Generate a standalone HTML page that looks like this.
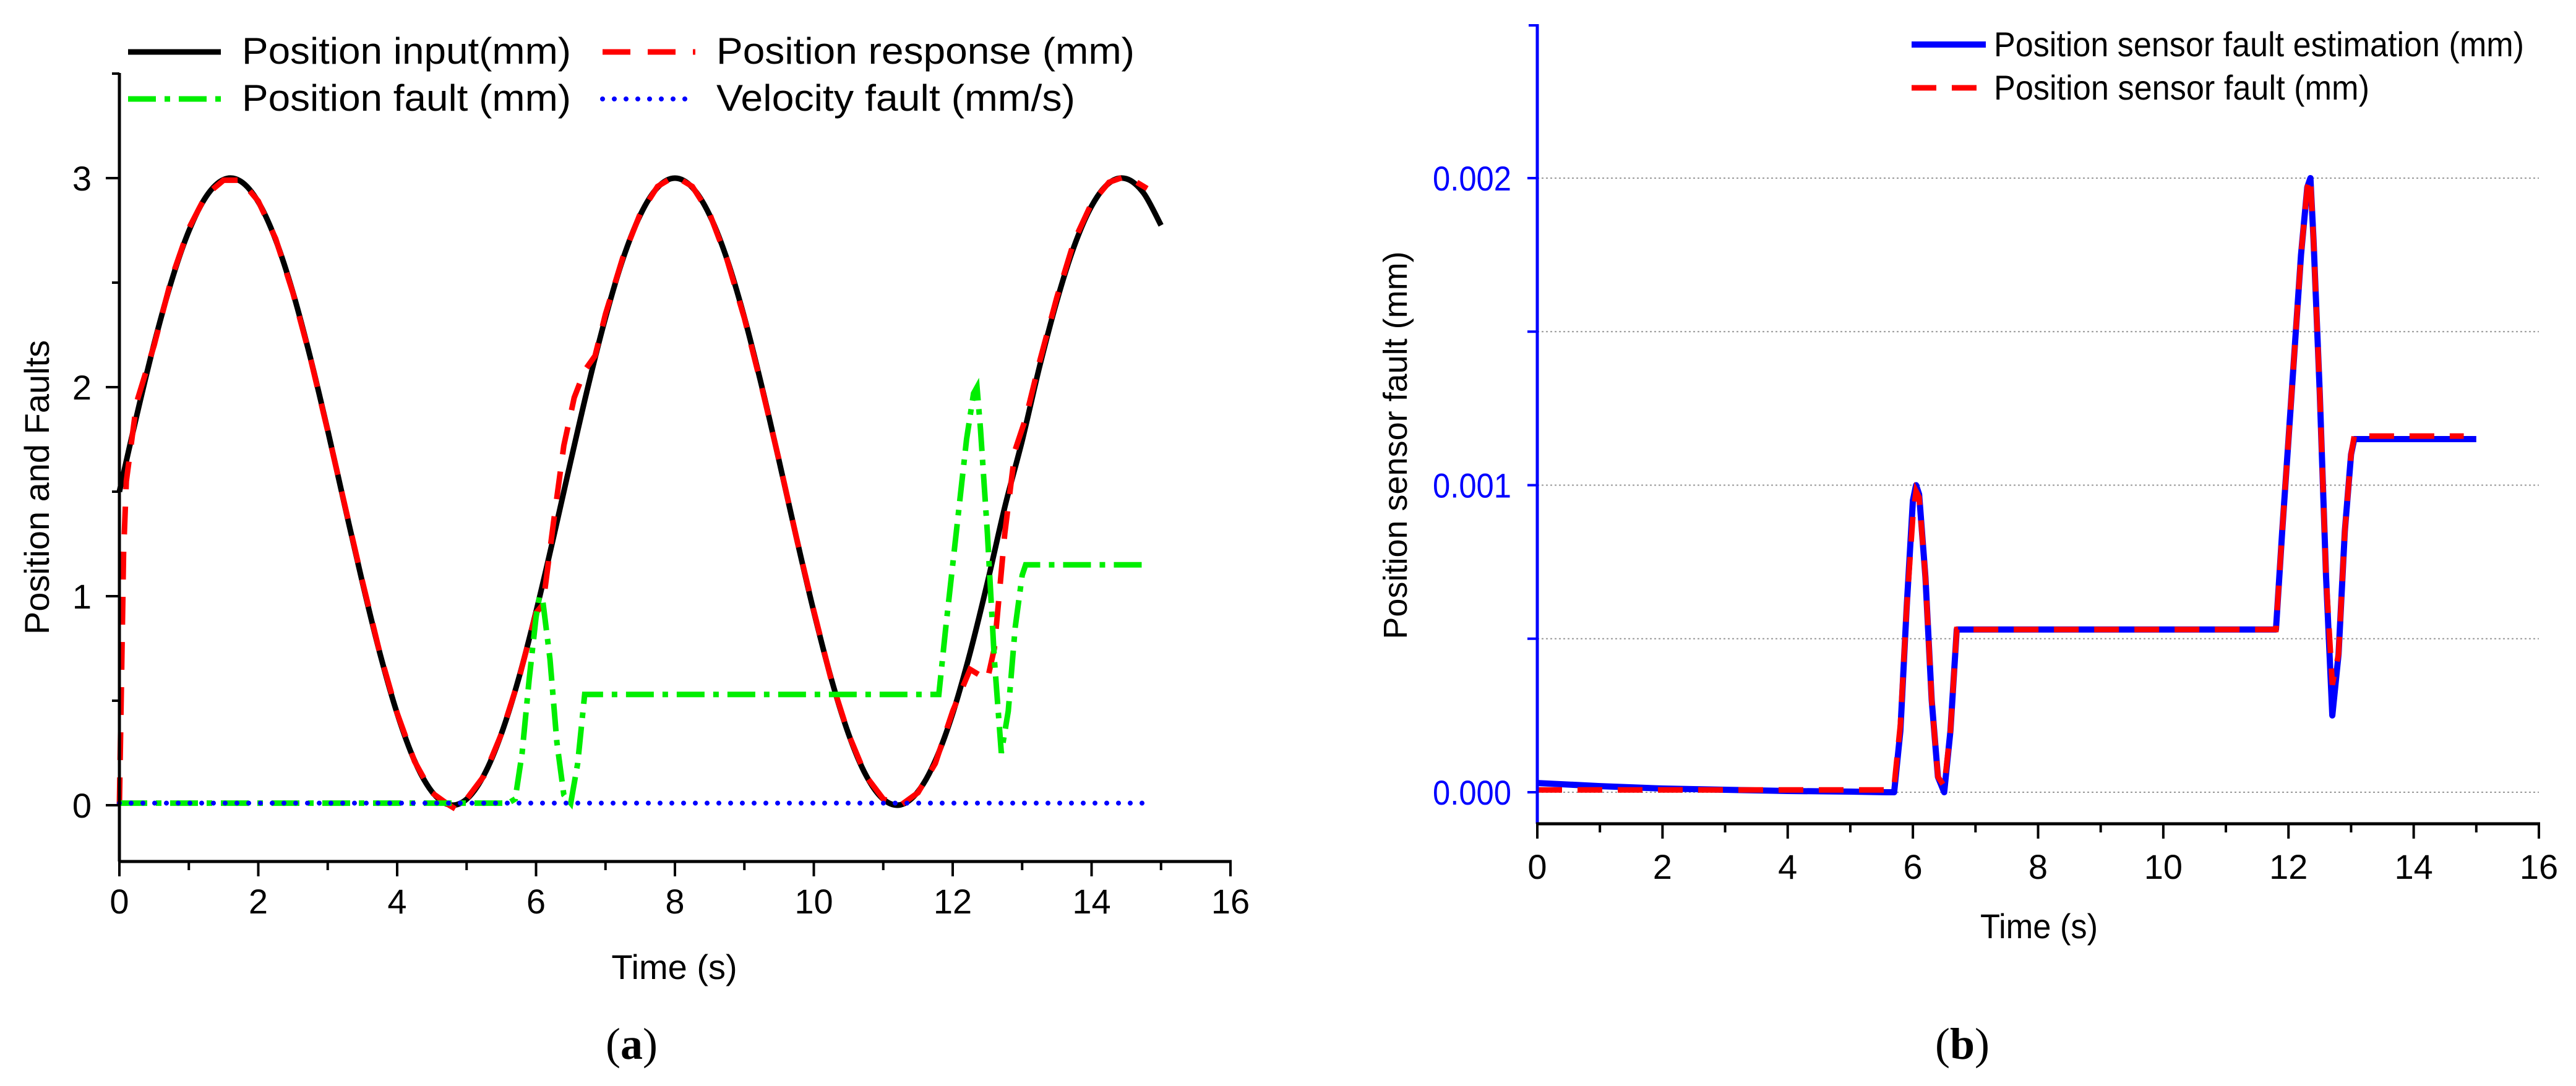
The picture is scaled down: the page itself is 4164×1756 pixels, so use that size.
<!DOCTYPE html>
<html><head><meta charset="utf-8"><style>
html,body{margin:0;padding:0;background:#fff}
svg{display:block}
text{font-family:"Liberation Sans",Arial,sans-serif}
text.serif{font-family:"Liberation Serif",serif}
</style></head><body>
<svg id="fig" width="4164" height="1756" viewBox="0 0 4164 1756" xmlns="http://www.w3.org/2000/svg">
<g id="chartA"></g>
<g id="chartB"></g>
</svg>
<script>
// ---------- Chart A data ----------
const timeGridA = [0,0.25,0.5,0.75,1,1.25,1.5,1.75,2,2.25,2.5,2.75,3,3.25,3.5,3.75,4,4.25,4.5,4.75,5,5.25,5.5,5.75,6,6.25,6.5,6.75,7,7.25,7.5,7.75,8,8.25,8.5,8.75,9,9.25,9.5,9.75,10,10.25,10.5,10.75,11,11.25,11.5,11.75,12,12.25,12.5,12.75,13,13.25,13.5,13.75,14,14.25,14.5,14.75,15];
const positionInput = [1.5,1.865,2.207,2.507,2.747,2.912,2.993,2.984,2.886,2.705,2.452,2.141,1.793,1.426,1.065,0.729,0.439,0.213,0.065,0.002,0.029,0.144,0.341,0.606,0.926,1.28,1.647,2.005,2.333,2.612,2.823,2.955,3.0,2.955,2.823,2.612,2.333,2.005,1.647,1.28,0.926,0.606,0.341,0.144,0.029,0.002,0.065,0.213,0.439,0.729,1.065,1.426,1.744,2.097,2.413,2.675,2.866,2.976,2.997,2.928,2.774];
const responseTimes = [0,0.03,0.06,0.1,0.25,0.5,0.75,1,1.25,1.5,1.75,2,2.25,2.5,2.75,3,3.25,3.5,3.75,4,4.25,4.5,4.75,4.85,5,5.25,5.5,5.75,6,6.1,6.25,6.4,6.55,6.7,6.85,7,7.25,7.5,7.75,8,8.25,8.5,8.75,9,9.25,9.5,9.75,10,10.25,10.5,10.75,11,11.25,11.5,11.75,12,12.25,12.4,12.5,12.6,12.75,12.9,13.05,13.25,13.5,13.75,14,14.25,14.5,14.8];
const positionResponse = [0,0.6,1.2,1.55,1.93,2.2,2.52,2.76,2.92,2.99,2.99,2.89,2.71,2.45,2.14,1.79,1.43,1.07,0.73,0.44,0.21,0.06,0.0,-0.02,0.03,0.14,0.34,0.6,0.92,0.96,1.35,1.72,1.95,2.08,2.15,2.35,2.62,2.83,2.96,3.01,2.96,2.83,2.61,2.33,2.0,1.65,1.28,0.93,0.6,0.34,0.14,0.03,0.0,0.06,0.2,0.45,0.65,0.62,0.6,0.75,1.3,1.7,1.85,2.12,2.43,2.7,2.88,2.98,3.01,2.95];
const faultTimes = [0,5.6,5.7,5.8,5.9,6.0,6.05,6.1,6.2,6.3,6.4,6.5,6.6,6.7,11.8,11.9,12.0,12.1,12.2,12.3,12.35,12.4,12.5,12.6,12.7,12.8,12.9,13.0,13.05,14.8];
const positionFault = [0.01,0.01,0.03,0.25,0.6,0.9,1.0,0.97,0.7,0.3,0.05,0.01,0.2,0.53,0.53,0.85,1.15,1.45,1.75,1.97,2.0,1.8,1.3,0.7,0.25,0.45,0.85,1.1,1.15,1.15];
const velocityTimes = [0,14.8];
const velocityFault = [0.01,0.01];
const xTicksA = [0,2,4,6,8,10,12,14,16];
const yTicksA = [0,1,2,3];

// ---------- Chart B data ----------
const estTimes = [0,1,2,3,4,5,5.6,5.7,5.8,5.9,6.0,6.05,6.1,6.2,6.3,6.4,6.5,6.6,6.7,11.8,11.9,12.0,12.1,12.2,12.3,12.35,12.4,12.5,12.6,12.7,12.8,12.9,13.0,13.05,15];
const faultEstimation = [0.00003,0.00002,0.000012,0.000008,0.000004,0.000002,0.0,0.0,0.0002,0.0006,0.00095,0.001,0.00097,0.0007,0.0003,0.00005,0.0,0.0002,0.00053,0.00053,0.00085,0.00115,0.00145,0.00175,0.00197,0.002,0.0018,0.0013,0.0007,0.00025,0.00045,0.00085,0.0011,0.00115,0.00115];
const sensorFaultTimes = [0,5.6,5.7,5.8,5.9,6.0,6.05,6.1,6.2,6.3,6.4,6.5,6.6,6.7,11.8,11.9,12.0,12.1,12.2,12.3,12.35,12.4,12.5,12.6,12.7,12.8,12.9,13.0,13.05,14.8];
const sensorFault = [0.0000075,0.0000075,0.00002,0.00022,0.0006,0.0009,0.00098,0.00096,0.0007,0.0003,0.00005,0.00002,0.0002,0.00053,0.00053,0.00085,0.00115,0.00145,0.00175,0.00197,0.002,0.0018,0.0013,0.0007,0.00035,0.00045,0.00085,0.0011,0.00116,0.00116];
const xTicksB = [0,2,4,6,8,10,12,14,16];
const yTicksB = [0,0.001,0.002];
const yTickLabelsB = ["0.000","0.001","0.002"];
const gridB = [0,0.0005,0.001,0.0015,0.002];

const NS = "http://www.w3.org/2000/svg";
function mk(parent, tag, attrs){ const e=document.createElementNS(NS,tag); for(const k in attrs) e.setAttribute(k,attrs[k]); parent.appendChild(e); return e; }
function pathFrom(xs, ys, sx, sy){ return xs.map((t,i)=>(i?'L':'M')+sx(t).toFixed(1)+','+sy(ys[i]).toFixed(1)).join(''); }
function smoothFrom(xs, ys, sx, sy){
  const P=xs.map((t,i)=>[sx(t),sy(ys[i])]);
  let d='M'+P[0][0].toFixed(1)+','+P[0][1].toFixed(1);
  for(let i=0;i<P.length-1;i++){
    const p0=P[Math.max(0,i-1)],p1=P[i],p2=P[i+1],p3=P[Math.min(P.length-1,i+2)];
    const c1=[p1[0]+(p2[0]-p0[0])/6,p1[1]+(p2[1]-p0[1])/6];
    const c2=[p2[0]-(p3[0]-p1[0])/6,p2[1]-(p3[1]-p1[1])/6];
    d+='C'+c1[0].toFixed(1)+','+c1[1].toFixed(1)+' '+c2[0].toFixed(1)+','+c2[1].toFixed(1)+' '+p2[0].toFixed(1)+','+p2[1].toFixed(1);
  }
  return d;
}

// ===== Chart A =====
(function(){
  const g=document.getElementById('chartA');
  const X0=193,X1=1989,YA=1302,perU=338;
  const sx=t=>X0+(t-0)/16*(X1-X0);
  const sy=v=>YA-v*perU;
  const axisY=1393, topY=118;
  let e;
  e=mk(g,'path',{d:smoothFrom(timeGridA,positionInput,sx,sy),fill:'none',stroke:'#000','stroke-width':9});
   
  e=mk(g,'path',{d:pathFrom(responseTimes,positionResponse,sx,sy),fill:'none',stroke:'#ff0000','stroke-width':9,'stroke-dasharray':'45 28'});
   
  e=mk(g,'path',{d:pathFrom(faultTimes,positionFault,sx,sy),fill:'none',stroke:'#00ee00','stroke-width':9,'stroke-dasharray':'45 14 9 14'});
   
  e=mk(g,'path',{d:pathFrom(velocityTimes,velocityFault,sx,sy),fill:'none',stroke:'#0000ff','stroke-width':8,'stroke-dasharray':'0 19','stroke-linecap':'round'});
   
  e=mk(g,'line',{x1:X0,y1:topY,x2:X0,y2:axisY,stroke:'#000','stroke-width':5});
   
  e=mk(g,'line',{x1:X0-2,y1:axisY,x2:X1+2,y2:axisY,stroke:'#000','stroke-width':5});
   
  for(let t=0;t<=16;t++){
    const major=t%2===0;
    e=mk(g,'line',{x1:sx(t),y1:axisY,x2:sx(t),y2:axisY+(major?24:14),stroke:'#000','stroke-width':4});
     
  }
  xTicksA.forEach(t=>{
    e=mk(g,'text',{x:sx(t),y:1477,'font-size':56,'text-anchor':'middle'}); e.textContent=t;
     
  });
  for(let v=0;v<=3.5;v+=0.5){
    const major=v%1===0;
    e=mk(g,'line',{x1:X0,y1:sy(v),x2:X0-(major?22:12),y2:sy(v),stroke:'#000','stroke-width':4});
     
  }
  yTicksA.forEach(v=>{
    e=mk(g,'text',{x:148,y:sy(v)+20,'font-size':56,'text-anchor':'end'}); e.textContent=v;
     
  });
  e=mk(g,'text',{x:1090,y:1583,'font-size':56,'text-anchor':'middle'}); e.textContent='Time (s)';
   
  e=mk(g,'text',{x:0,y:0,'font-size':56,'text-anchor':'middle',transform:'translate(79,788) rotate(-90)'}); e.textContent='Position and Faults';
   
  e=mk(g,'text',{x:1021,y:1712,'font-size':72,'text-anchor':'middle','class':'serif'}); e.innerHTML='(<tspan font-weight="bold">a</tspan>)';
   
  const leg=[
    {x:207,y:70,label:'Position input(mm)',st:{stroke:'#000','stroke-width':9},tx:391,w:532,n:'legend-position-input'},
    {x:974,y:70,label:'Position response (mm)',st:{stroke:'#ff0000','stroke-width':9,'stroke-dasharray':'45 28'},tx:1158,w:676,n:'legend-position-response'},
    {x:207,y:146,label:'Position fault (mm)',st:{stroke:'#00ee00','stroke-width':9,'stroke-dasharray':'45 14 9 14'},tx:391,w:532,n:'legend-position-fault'},
    {x:974,y:146,label:'Velocity fault (mm/s)',st:{stroke:'#0000ff','stroke-width':8,'stroke-dasharray':'0 19','stroke-linecap':'round'},tx:1158,w:580,n:'legend-velocity-fault'}
  ];
  leg.forEach(L=>{
    const lg=mk(g,'g',{});
     
    mk(lg,'line',Object.assign({x1:L.x,y1:L.y+14,x2:L.x+150,y2:L.y+14},L.st));
    const t=mk(lg,'text',{x:L.tx,y:L.y+33,'font-size':60,textLength:L.w,lengthAdjust:'spacingAndGlyphs'}); t.textContent=L.label;
  });
})();

// ===== Chart B =====
(function(){
  const g=document.getElementById('chartB');
  const X0=2485,X1=4104,Y0=1281,per=496500;
  const sx=t=>X0+t/16*(X1-X0);
  const sy=v=>Y0-v*per;
  const axisY=1332, topY=39;
  let e;
  gridB.forEach(v=>{
    e=mk(g,'line',{x1:X0,y1:sy(v),x2:X1,y2:sy(v),stroke:'#999','stroke-width':2,'stroke-dasharray':'3 4'});
     
  });
  e=mk(g,'path',{d:pathFrom(estTimes,faultEstimation,sx,sy),fill:'none',stroke:'#0000ff','stroke-width':10,'stroke-linejoin':'round'});
   
  e=mk(g,'path',{d:pathFrom(sensorFaultTimes,sensorFault,sx,sy),fill:'none',stroke:'#ff0000','stroke-width':9,'stroke-dasharray':'40 25'});
   
  e=mk(g,'line',{x1:X0,y1:topY,x2:X0,y2:axisY,stroke:'#0000ff','stroke-width':5});
   
  e=mk(g,'line',{x1:X0,y1:topY+2,x2:X0-14,y2:topY+2,stroke:'#0000ff','stroke-width':4});
   
  e=mk(g,'line',{x1:X0-2,y1:axisY,x2:X1+2,y2:axisY,stroke:'#000','stroke-width':5});
   
  for(let t=0;t<=16;t++){
    const major=t%2===0;
    e=mk(g,'line',{x1:sx(t),y1:axisY,x2:sx(t),y2:axisY+(major?24:14),stroke:'#000','stroke-width':4});
     
  }
  xTicksB.forEach(t=>{
    e=mk(g,'text',{x:sx(t),y:1421,'font-size':56,'text-anchor':'middle'}); e.textContent=t;
     
  });
  gridB.forEach(v=>{
    e=mk(g,'line',{x1:X0,y1:sy(v),x2:X0-16,y2:sy(v),stroke:'#0000ff','stroke-width':4});
     
  });
  yTicksB.forEach((v,i)=>{
    e=mk(g,'text',{x:2443,y:sy(v)+20,'font-size':56,'text-anchor':'end',fill:'#0000ff',textLength:127,lengthAdjust:'spacingAndGlyphs'}); e.textContent=yTickLabelsB[i];
     
  });
  e=mk(g,'text',{x:3296,y:1517,'font-size':56,'text-anchor':'middle',textLength:190,lengthAdjust:'spacingAndGlyphs'}); e.textContent='Time (s)';
   
  e=mk(g,'text',{x:0,y:0,'font-size':54,'text-anchor':'middle',transform:'translate(2274,720) rotate(-90)'}); e.textContent='Position sensor fault (mm)';
   
  e=mk(g,'text',{x:3172,y:1712,'font-size':72,'text-anchor':'middle','class':'serif'}); e.innerHTML='(<tspan font-weight="bold">b</tspan>)';
   
  const leg=[
    {y:72,label:'Position sensor fault estimation (mm)',st:{stroke:'#0000ff','stroke-width':10},w:857,n:'legend-fault-estimation'},
    {y:142,label:'Position sensor fault (mm)',st:{stroke:'#ff0000','stroke-width':9,'stroke-dasharray':'40 25'},w:607,n:'legend-sensor-fault'}
  ];
  leg.forEach(L=>{
    const lg=mk(g,'g',{});
     
    mk(lg,'line',Object.assign({x1:3090,y1:L.y,x2:3210,y2:L.y},L.st));
    const t=mk(lg,'text',{x:3223,y:L.y+19,'font-size':56,textLength:L.w,lengthAdjust:'spacingAndGlyphs'}); t.textContent=L.label;
  });
})();
</script>
</body></html>
